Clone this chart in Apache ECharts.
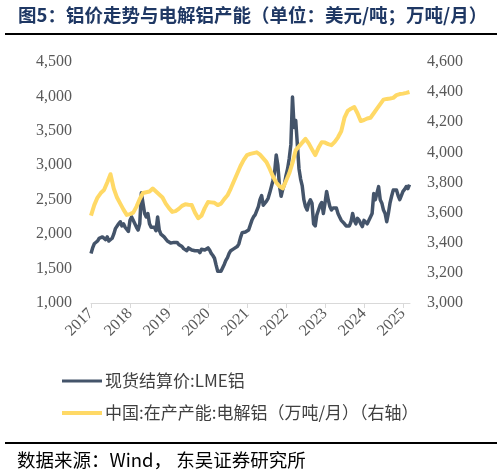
<!DOCTYPE html>
<html>
<head>
<meta charset="utf-8">
<script src="https://cdn.jsdelivr.net/npm/echarts@6/dist/echarts.min.js"></script>
<style>
html,body{margin:0;padding:0;background:#fff;}
#c{width:502px;height:476px;}
</style>
</head>
<body>
<div id="c"></div>
<script>
// LME aluminium settlement price (USD/t), half-month samples starting Jan 2017
var lmeStartYear = 2017;
var lmeStepsPerYear = 24;
var lmeValues = [
  // 2017
  1720,1800,1860,1880,1900,1940,1930,1960,1950,1920,1960,1900,1910,1940,2000,2080,2100,2150,2180,2120,2150,2100,2100,2040,
  // 2018
  2200,2250,2230,2150,2100,2060,2150,2600,2450,2300,2250,2300,2150,2100,2080,2100,2050,2250,2060,2000,1980,1960,1940,1900,
  // 2019
  1890,1870,1860,1880,1870,1880,1850,1860,1820,1790,1780,1760,1800,1790,1770,1750,1760,1780,1760,1730,1780,1800,1770,1780,
  // 2020
  1800,1770,1720,1690,1650,1550,1460,1440,1460,1480,1560,1620,1660,1720,1760,1780,1790,1800,1820,1860,1950,2020,2040,2030,
  // 2021
  2040,2060,2080,2200,2250,2280,2300,2400,2500,2560,2420,2400,2480,2520,2600,2620,2780,2900,3150,3000,2700,2550,2650,2720,
  // 2022
  2850,2950,3100,3300,3990,3550,3650,3300,2950,2800,2700,2500,2400,2350,2450,2500,2450,2150,2120,2280,2350,2420,2460,2300,
  // 2023
  2450,2620,2500,2400,2350,2380,2400,2380,2300,2250,2200,2180,2150,2120,2100,2120,2180,2300,2200,2150,2230,2200,2150,2110,
  // 2024
  2200,2180,2150,2170,2250,2300,2590,2500,2600,2690,2500,2450,2350,2300,2180,2300,2450,2550,2640,2620,2640,2560,2500,2560,
  // 2025
  2620,2650,2690,2660,2720
];
// China electrolytic aluminium operating capacity (10k t / month), monthly from Jan 2017
var capStartYear = 2017;
var capStepsPerYear = 12;
var capValues = [
  3580,3650,3700,3730,3750,3800,3855,3760,3700,3660,3620,3585,
  3590,3600,3640,3690,3730,3735,3740,3760,3740,3720,3700,3660,
  3630,3605,3610,3625,3645,3655,3652,3650,3600,3563,3580,3630,
  3670,3668,3665,3650,3660,3690,3715,3760,3810,3860,3910,3950,
  3982,3990,3995,4000,3985,3960,3935,3890,3840,3800,3775,3761,
  3810,3861,3930,4015,4040,4065,4090,4060,4020,3982,4030,4068,
  4065,4055,4048,4070,4100,4140,4230,4275,4290,4301,4260,4208,
  4215,4225,4230,4260,4290,4320,4350,4355,4358,4362,4380,4387,
  4390,4395,4401
];
var yearTicks = [2017,2018,2019,2020,2021,2022,2023,2024,2025];
var seriesNames = ['现货结算价:LME铝','中国:在产产能:电解铝（万吨/月）（右轴）'];
var titleText = '图5：铝价走势与电解铝产能（单位：美元/吨；万吨/月）';
var sourceText = '数据来源：Wind， 东吴证券研究所';

function toPairs(start, steps, vals){
  return vals.map(function(v,i){ return [start + i/steps, v]; });
}
function comma(v){ return String(v).replace(/\B(?=(\d{3})+(?!\d))/g, ','); }

var serif = '"Liberation Serif","Times New Roman",serif';
var cjk = '"Noto Sans CJK SC","Noto Sans",sans-serif';
var labelColor = '#595959';

var chart = echarts.init(document.getElementById('c'), null, {renderer:'canvas'});
chart.setOption({
  animation:false,
  backgroundColor:'#fff',
  graphic:[
    {type:'text', x:18, y:6, style:{text:titleText, font:'bold 18.5px '+cjk, fill:'#1F3864', textVerticalAlign:'top'}},
    {type:'line', shape:{x1:5,y1:34,x2:497,y2:34}, style:{stroke:'#000',lineWidth:2}},
    {type:'line', shape:{x1:5,y1:443,x2:497,y2:443}, style:{stroke:'#000',lineWidth:2}},
    {type:'text', x:17, y:451, style:{text:sourceText, font:'18.5px '+cjk, fill:'#000', textVerticalAlign:'top'}}
  ],
  legend:[
    {data:[{name:seriesNames[0], icon:'rect'}], left:62, top:371, itemWidth:40, itemHeight:3, itemGap:0, padding:0,
     textStyle:{fontFamily:cjk, fontSize:17, color:'#404040', lineHeight:20, padding:[0,0,0,-2]}},
    {data:[{name:seriesNames[1], icon:'rect'}], left:62, top:403, itemWidth:40, itemHeight:4, itemGap:0, padding:0,
     textStyle:{fontFamily:cjk, fontSize:17, color:'#404040', lineHeight:20, padding:[0,0,0,-2]}}
  ],
  grid:{left:91, right:92, top:62, bottom:173, containLabel:false},
  xAxis:{
    type:'value', min:2017, max:2025.18,
    axisLine:{show:true, lineStyle:{color:'#D9D9D9', width:1}},
    axisTick:{show:true, customValues:yearTicks, length:5, lineStyle:{color:'#D9D9D9'}},
    axisLabel:{customValues:yearTicks, rotate:45, margin:8, fontFamily:serif, fontSize:16, color:labelColor,
      formatter:function(v){return String(Math.round(v));}},
    splitLine:{show:false}
  },
  yAxis:[
    {type:'value', min:1000, max:4500, interval:500, position:'left',
     axisLine:{show:false}, axisTick:{show:false}, splitLine:{show:false},
     axisLabel:{margin:19, fontFamily:serif, fontSize:16, color:labelColor, formatter:comma}},
    {type:'value', min:3000, max:4600, interval:200, position:'right',
     axisLine:{show:false}, axisTick:{show:false}, splitLine:{show:false},
     axisLabel:{margin:17, fontFamily:serif, fontSize:16, color:labelColor, formatter:comma}}
  ],
  series:[
    {name:seriesNames[0], type:'line', yAxisIndex:0, data:toPairs(lmeStartYear, lmeStepsPerYear, lmeValues),
     showSymbol:false, symbol:'none', z:2,
     lineStyle:{color:'#44546A', width:3.5, join:'round'}, itemStyle:{color:'#44546A'}},
    {name:seriesNames[1], type:'line', yAxisIndex:1, data:toPairs(capStartYear, capStepsPerYear, capValues),
     showSymbol:false, symbol:'none', z:3,
     lineStyle:{color:'#FFD966', width:4, join:'round'}, itemStyle:{color:'#FFD966'}}
  ]
});
</script>
</body>
</html>
